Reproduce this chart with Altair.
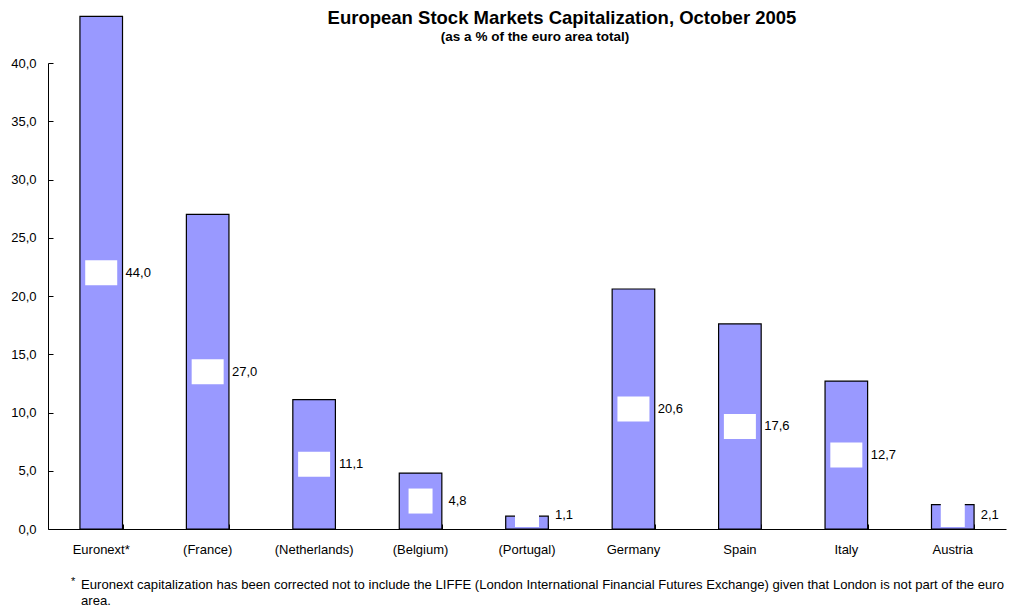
import altair as alt
import pandas as pd

categories = ["Euronext*", "(France)", "(Netherlands)", "(Belgium)", "(Portugal)",
              "Germany", "Spain", "Italy", "Austria"]
values = [44.0, 27.0, 11.1, 4.8, 1.1, 20.6, 17.6, 12.7, 2.1]
y_ticks = [0, 5, 10, 15, 20, 25, 30, 35, 40]

title_text = "European Stock Markets Capitalization, October 2005"
subtitle_text = "(as a % of the euro area total)"
foot1 = "Euronext capitalization has been corrected not to include the LIFFE (London International Financial Futures Exchange) given that London is not part of the euro"
foot2 = "area."

labels = [f"{v:.1f}".replace(".", ",") for v in values]
df = pd.DataFrame({
    "cat": categories,
    "value": values,
    "label": labels,
    "mid": [max(v / 2, 1.24) for v in values],
    "bw": [8 * len(s) for s in labels],
})

W, H = 958, 466
FONT = "Liberation Sans"

xscale = alt.Scale(domain=categories, paddingInner=0.6, paddingOuter=0.3)
yscale = alt.Scale(domain=[0, 40], nice=False, zero=True)

bars = alt.Chart(df).mark_bar(color="#9999FF", stroke="black", strokeWidth=1.2).encode(
    x=alt.X("cat:N", sort=categories, scale=xscale, title=None,
            axis=alt.Axis(labelAngle=0, ticks=False, tickSize=0, labelPadding=14,
                          labelFont=FONT, labelFontSize=13, labelColor="black",
                          domainColor="black", grid=False)),
    y=alt.Y("value:Q", scale=yscale, title=None,
            axis=alt.Axis(values=y_ticks, ticks=False, tickSize=0, labelPadding=12,
                          labelExpr="replace(format(datum.value, '.1f'), '.', ',')",
                          labelFont=FONT, labelFontSize=13, labelColor="black",
                          domainColor="black", grid=False)),
)

boxes = alt.Chart(df).mark_tick(color="white", opacity=1, thickness=25).encode(
    x=alt.X("cat:N", sort=categories, scale=xscale, title=None,
            axis=alt.Axis(orient="top", offset=-H, labels=False, domain=False,
                          ticks=True, tickSize=5, tickBand="extent",
                          tickColor="black", grid=False)),
    y=alt.Y("mid:Q", scale=yscale, title=None,
            axis=alt.Axis(orient="right", offset=-W, labels=False, domain=False,
                          values=y_ticks, ticks=True, tickSize=5,
                          tickColor="black", grid=False)),
    size=alt.Size("bw:Q", scale=None, legend=None),
)

texts = alt.Chart(df).mark_text(font=FONT, fontSize=13, color="black",
                                align="center", baseline="middle", dx=37).encode(
    x=alt.X("cat:N", sort=categories, scale=xscale, axis=None),
    y=alt.Y("mid:Q", scale=yscale, axis=None),
    text="label:N",
)

ann = pd.DataFrame({"k": [0]})
title = alt.Chart(ann).mark_text(text=title_text, font=FONT, fontSize=18.5, fontWeight="bold",
                                 align="center", baseline="middle", color="black").encode(
    x=alt.value(514), y=alt.value(-45))
subtitle = alt.Chart(ann).mark_text(text=subtitle_text, font=FONT, fontSize=13.5, fontWeight="bold",
                                    align="center", baseline="middle", color="black").encode(
    x=alt.value(487), y=alt.value(-26))
star = alt.Chart(ann).mark_text(text="*", font=FONT, fontSize=11, align="left",
                                baseline="middle", color="black").encode(
    x=alt.value(23), y=alt.value(519))
f1 = alt.Chart(ann).mark_text(text=foot1, font=FONT, fontSize=13.1, align="left",
                              baseline="middle", color="black").encode(
    x=alt.value(33), y=alt.value(522))
f2 = alt.Chart(ann).mark_text(text=foot2, font=FONT, fontSize=13.1, align="left",
                              baseline="middle", color="black").encode(
    x=alt.value(33), y=alt.value(538))

chart = alt.layer(bars, boxes, texts, title, subtitle, star, f1, f2).resolve_scale(
    x="independent", y="independent"
).properties(
    width=W, height=H,
    autosize=alt.AutoSizeParams(type="none"),
    padding={"left": 40, "top": 55, "right": 9, "bottom": 78},
).configure(background="white").configure_view(strokeWidth=0, stroke="transparent")

chart.save("out.html", embed_options={"renderer": "svg", "actions": False})
